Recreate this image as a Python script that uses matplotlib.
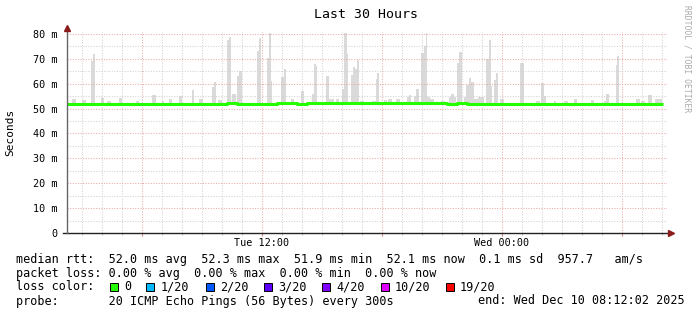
import matplotlib
matplotlib.use("Agg")
import matplotlib.pyplot as plt
from matplotlib.patches import Rectangle

# DANE (czas w minutach od Tue 02:15, okno 30 h)
smoke_start = [15, 45, 72, 78, 102, 120, 156, 207, 255, 285, 306, 336, 375, 396, 435, 441,
               453, 480, 486, 495, 510, 516, 570, 576, 600, 606, 612, 642, 651, 672, 702,
               735, 741, 747, 777, 786, 807, 825, 831, 840, 852, 858, 864, 870, 879, 915,
               927, 930, 951, 963, 987, 1020, 1026, 1041, 1047, 1062, 1071, 1077, 1080,
               1089, 1122, 1146, 1152, 1161, 1170, 1176, 1191, 1197, 1206, 1212, 1221,
               1233, 1257, 1266, 1272, 1281, 1287, 1299, 1359, 1365, 1407, 1422, 1431,
               1461, 1491, 1521, 1572, 1611, 1617, 1647, 1650, 1707, 1722, 1743, 1764]
smoke_end = [27, 57, 78, 84, 111, 132, 165, 216, 267, 291, 315, 345, 381, 408, 441, 447,
             465, 486, 492, 507, 516, 525, 576, 582, 606, 612, 615, 651, 657, 681, 711,
             741, 747, 750, 786, 801, 816, 831, 840, 843, 858, 864, 870, 876, 891, 927,
             930, 936, 960, 975, 999, 1026, 1032, 1047, 1056, 1071, 1077, 1080, 1089,
             1101, 1134, 1152, 1161, 1167, 1176, 1185, 1197, 1206, 1212, 1221, 1233,
             1251, 1266, 1272, 1275, 1287, 1293, 1311, 1365, 1371, 1419, 1431, 1437,
             1467, 1503, 1530, 1581, 1617, 1626, 1650, 1656, 1719, 1734, 1755, 1785]
smoke_top = [53.9, 53.5, 69.0, 72.0, 54.3, 53.0, 54.3, 53.0, 55.6, 53.0, 53.9, 55.2, 57.6,
             53.7, 58.7, 60.7, 53.5, 77.6, 78.7, 55.9, 63.2, 65.3, 73.3, 78.4, 70.4, 80.5,
             61.0, 62.6, 66.1, 54.0, 57.2, 56.0, 67.9, 67.0, 63.1, 54.0, 54.0, 58.0, 80.5,
             72.0, 63.7, 66.9, 66.0, 69.7, 53.0, 53.0, 62.0, 64.5, 53.5, 54.0, 54.0, 54.7,
             55.6, 55.2, 58.0, 72.4, 75.0, 80.5, 54.7, 54.0, 53.0, 54.8, 56.0, 54.7, 68.5,
             72.8, 54.7, 59.6, 62.3, 60.5, 54.0, 54.7, 69.8, 77.4, 58.9, 61.5, 64.5, 54.0,
             68.2, 68.5, 53.0, 60.2, 55.0, 53.0, 53.0, 54.0, 53.5, 53.0, 56.0, 67.7, 71.2,
             54.0, 53.0, 55.6, 54.0]
smoke_bottom = 51.5

# mediana co 30 min
median_rtt = [52.0, 52.0, 51.9, 52.0, 52.0, 51.9, 52.0, 52.0, 52.0, 51.9, 52.0, 52.0,
              51.9, 52.0, 52.0, 52.0, 52.1, 52.0, 52.0, 51.9, 52.0, 52.1, 52.1, 52.0,
              52.1, 52.1, 52.1, 52.1, 52.1, 52.1, 52.2, 52.1, 52.1, 52.1, 52.1, 52.1,
              52.1, 52.1, 52.0, 52.1, 52.0, 51.9, 52.0, 52.0, 51.9, 52.0, 52.0, 52.0,
              51.9, 52.0, 52.0, 51.9, 52.0, 52.0, 52.0, 51.9, 52.0, 52.0, 52.0, 52.0]
median_t = [30 * i for i in range(len(median_rtt))]

hour_grid = [45 + 60 * i for i in range(30)]
major_grid = [225, 585, 945, 1305, 1665]
x_labels = {585: "Tue 12:00", 1305: "Wed 00:00"}
y_major = [10, 20, 30, 40, 50, 60, 70, 80]
y_minor = [5, 15, 25, 35, 45, 55, 65, 75]
y_labels = ["0", "10 m", "20 m", "30 m", "40 m", "50 m", "60 m", "70 m", "80 m"]

loss_labels = ["0", "1/20", "2/20", "3/20", "4/20", "10/20", "19/20"]
loss_colors = ["#26ff00", "#00b8ff", "#0059ff", "#5e00ff", "#7e00ff", "#dd00ff", "#ff0000"]
loss_x = [109.5, 146, 205.5, 263.5, 321.5, 380.5, 445.5]

W, H = 697, 315
mono = "DejaVu Sans Mono"
fig = plt.figure(figsize=(W / 100, H / 100), dpi=100)
fig.patch.set_facecolor("white")

x0, x1, ybot, ytop = 67, 667, 233, 32
ax = fig.add_axes([x0 / W, (H - ybot) / H, (x1 - x0) / W, (ybot - ytop) / H])
ax.set_xlim(0, 1800)
ax.set_ylim(0, 80.8)
for s in ax.spines.values():
    s.set_visible(False)

# dym
for a, b, t in zip(smoke_start, smoke_end, smoke_top):
    ax.bar(a, t - smoke_bottom, width=b - a, bottom=smoke_bottom, align="edge",
           color="#dadada", linewidth=0, zorder=1)

# siatka
minor_c, major_c = "#d2d2d2", "#eaaaaa"
for g in hour_grid:
    if g not in major_grid:
        ax.axvline(g, color=minor_c, lw=0.75, ls=(0, (1, 1.5)), zorder=2)
for g in major_grid:
    ax.axvline(g, color=major_c, lw=0.75, ls=(0, (1, 1.5)), zorder=2)
for g in y_minor:
    ax.axhline(g, color=minor_c, lw=0.75, ls=(0, (1, 1.5)), zorder=2)
for g in y_major:
    ax.axhline(g, color=major_c, lw=0.75, ls=(0, (1, 1.5)), zorder=2)

# mediana
ax.step(median_t + [1788], median_rtt + [median_rtt[-1]], where="post",
        color="#26ff00", lw=2.2, zorder=3, solid_capstyle="butt")

# osie
ax.plot([-3.6 * 3, 1800 + 9], [0, 0], color="#222222", lw=1, clip_on=False, zorder=4)
ax.plot([0, 0], [0, 82.2], color="#666666", lw=1, clip_on=False, zorder=4)
ax.plot([1800 + 13], [0], marker=">", color="#8b1a1a", ms=4, clip_on=False, zorder=5)
ax.plot([0], [82.6], marker="^", color="#8b1a1a", ms=4, clip_on=False, zorder=5)

ax.set_yticks([0] + y_major)
ax.set_yticklabels(y_labels, fontfamily=mono, fontsize=7.3)
ax.tick_params(axis="y", length=0, pad=7)
ax.set_xticks(major_grid)
ax.set_xticklabels([x_labels.get(g, "") for g in major_grid], fontfamily=mono, fontsize=7.3)
ax.set_xticks(hour_grid, minor=True)
ax.tick_params(axis="x", which="major", length=2, color="#e08080", pad=1.5)
ax.tick_params(axis="x", which="minor", length=1.5, color="#aaaaaa")

fig.text(366 / W, 1 - 14 / H, "Last 30 Hours", fontfamily=mono, fontsize=9.5,
         ha="center", va="center")
fig.text(10 / W, 1 - 132 / H, "Seconds", fontfamily=mono, fontsize=8, rotation=90,
         ha="center", va="center")
fig.text(687 / W, 1 - 5 / H, "RRDTOOL / TOBI OETIKER", fontfamily=mono, fontsize=5.8,
         rotation=270, ha="center", va="top", color="#aaaaaa")

# legenda
fs = 8.5
rows = [259, 273, 287, 301]
fig.text(16 / W, 1 - rows[0] / H,
         "median rtt:  52.0 ms avg  52.3 ms max  51.9 ms min  52.1 ms now  0.1 ms sd  957.7   am/s",
         fontfamily=mono, fontsize=fs, va="center")
fig.text(16 / W, 1 - rows[1] / H,
         "packet loss: 0.00 % avg  0.00 % max  0.00 % min  0.00 % now",
         fontfamily=mono, fontsize=fs, va="center")
fig.text(16 / W, 1 - rows[2] / H, "loss color:", fontfamily=mono, fontsize=fs, va="center")
for lx, lab, col in zip(loss_x, loss_labels, loss_colors):
    fig.patches.append(Rectangle((lx / W, 1 - (rows[2] + 4) / H), 8 / W, 8 / H,
                                 transform=fig.transFigure, facecolor=col,
                                 edgecolor="black", lw=0.7))
    fig.text((lx + 14.5) / W, 1 - rows[2] / H, lab, fontfamily=mono, fontsize=fs, va="center")
fig.text(16 / W, 1 - rows[3] / H,
         "probe:       20 ICMP Echo Pings (56 Bytes) every 300s",
         fontfamily=mono, fontsize=fs, va="center")
fig.text(685 / W, 1 - rows[3] / H, "end: Wed Dec 10 08:12:02 2025",
         fontfamily=mono, fontsize=fs, va="center", ha="right")

fig.savefig("out.png", dpi=100, facecolor="white")
